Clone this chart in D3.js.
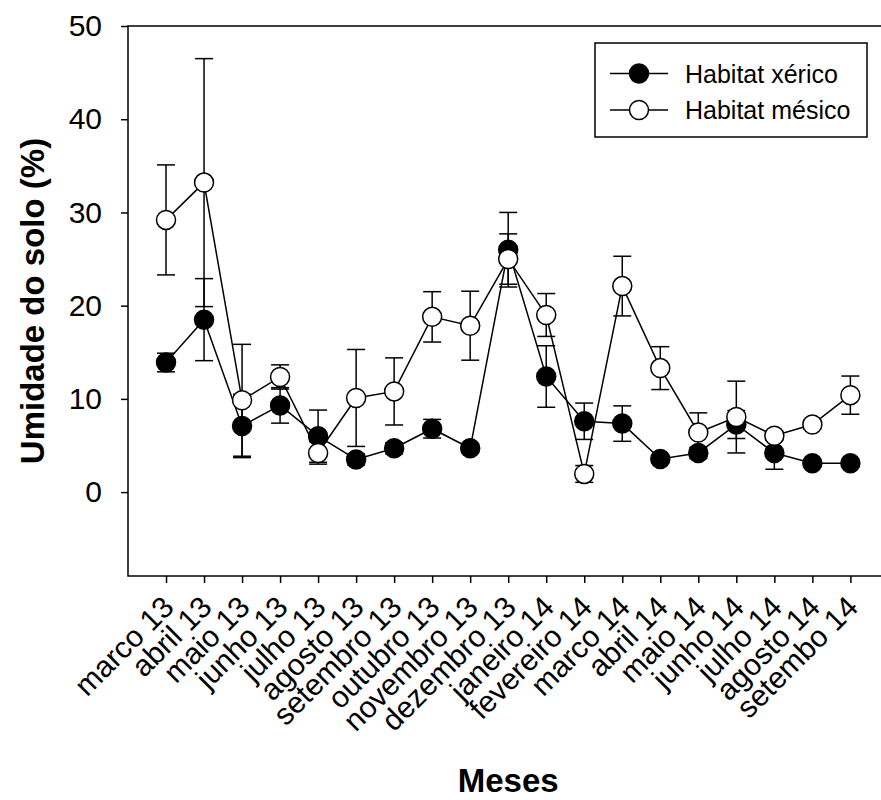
<!DOCTYPE html>
<html>
<head>
<meta charset="utf-8">
<script src="https://cdn.jsdelivr.net/npm/d3@7"></script>
<style>
  body { margin: 0; background: #fff; }
  svg { display: block; font-family: "Liberation Sans", Arial, sans-serif; }
  .axis path, .axis line { stroke: #000; stroke-width: 1.5; }
  .axis text { fill: #000; font-size: 30px; font-family: "Liberation Sans", Arial, sans-serif; }
</style>
</head>
<body>
<div id="chart"></div>
<script>
// months on the x axis
var months = ["marco 13", "abril 13", "maio 13", "junho 13", "julho 13", "agosto 13",
    "setembro 13", "outubro 13", "novembro 13", "dezembro 13", "janeiro 14", "fevereiro 14",
    "marco 14", "abril 14", "maio 14", "junho 14", "julho 14", "agosto 14", "setembo 14"];

// soil moisture (%) and error bars
var xerico = [13.9, 18.5, 7.1, 9.3, 6.0, 3.5, 4.7, 6.8, 4.7, 26.0, 12.4, 7.6, 7.35, 3.55, 4.2, 7.25, 4.2, 3.1, 3.1];
var xericoErr = [1.0, 4.4, 3.4, 1.9, 2.8, 0.6, 0.6, 1.0, 0.5, 4.0, 3.3, 1.95, 1.9, 0.4, 0.6, 1.5, 1.75, 0.3, 0.4];
var mesico = [29.2, 33.2, 9.85, 12.35, 4.2, 10.1, 10.8, 18.8, 17.85, 25.0, 19.0, 1.95, 22.1, 13.3, 6.4, 8.05, 6.05, 7.25, 10.4];
var mesicoErr = [5.9, 13.3, 6.0, 1.3, 1.2, 5.2, 3.6, 2.7, 3.7, 2.7, 2.3, 0.9, 3.2, 2.3, 2.1, 3.85, 0.5, 0.5, 2.05];

var yTicks = [0, 10, 20, 30, 40, 50];
var seriesNames = ["Habitat xérico", "Habitat mésico"];

var W = 881, H = 800;
var pLeft = 128, pTop = 26, pBottom = 576, pRight = 888.4;

var x = d3.scaleLinear().domain([0, months.length + 1]).range([pLeft, pRight]);
var y = d3.scaleLinear().domain([-9, 50]).range([pBottom, pTop]);

var svg = d3.select("#chart").append("svg")
    .attr("width", W).attr("height", H);

// frame (right side falls outside the picture)
svg.append("rect")
    .attr("x", pLeft).attr("y", pTop)
    .attr("width", pRight - pLeft).attr("height", pBottom - pTop)
    .attr("fill", "none").attr("stroke", "#000").attr("stroke-width", 1.5);

var yAxis = d3.axisLeft(y).tickValues(yTicks).tickSize(7).tickPadding(19).tickSizeOuter(0);
var gy = svg.append("g").attr("class", "axis")
    .attr("transform", "translate(" + pLeft + ",0)")
    .call(yAxis);
gy.select(".domain").remove();

var xAxis = d3.axisBottom(x)
    .tickValues(d3.range(1, months.length + 1))
    .tickFormat(function(d){ return months[d - 1]; })
    .tickSize(7).tickSizeOuter(0);
var gx = svg.append("g").attr("class", "axis")
    .attr("transform", "translate(0," + pBottom + ")")
    .call(xAxis);
gx.select(".domain").remove();
gx.selectAll(".tick text")
    .attr("x", 0).attr("y", 0).attr("dy", 0)
    .attr("text-anchor", "end")
    .attr("transform", "translate(9,33) rotate(-45)");

// axis titles
svg.append("text")
    .attr("transform", "translate(44," + ((pTop + pBottom) / 2) + ") rotate(-90)")
    .attr("text-anchor", "middle")
    .attr("font-size", 33).attr("font-weight", "bold")
    .text("Umidade do solo (%)");
svg.append("text")
    .attr("x", (pLeft + pRight) / 2).attr("y", 792)
    .attr("text-anchor", "middle")
    .attr("font-size", 33).attr("font-weight", "bold")
    .text("Meses");

var r = 9.5, cap = 9;
var line = d3.line().x(function(d, i){ return x(i + 1); }).y(function(d){ return y(d); });

function drawSeries(vals, errs, fill, cls){
    var g = svg.append("g").attr("class", cls);
    var eb = g.selectAll("g.err").data(vals).enter().append("g").attr("class", "err")
        .attr("stroke", "#000").attr("stroke-width", 1.5);
    eb.append("line")
        .attr("x1", function(d, i){ return x(i + 1); })
        .attr("x2", function(d, i){ return x(i + 1); })
        .attr("y1", function(d, i){ return y(d + errs[i]); })
        .attr("y2", function(d, i){ return y(d - errs[i]); });
    eb.append("line")
        .attr("x1", function(d, i){ return x(i + 1) - cap; })
        .attr("x2", function(d, i){ return x(i + 1) + cap; })
        .attr("y1", function(d, i){ return y(d + errs[i]); })
        .attr("y2", function(d, i){ return y(d + errs[i]); });
    eb.append("line")
        .attr("x1", function(d, i){ return x(i + 1) - cap; })
        .attr("x2", function(d, i){ return x(i + 1) + cap; })
        .attr("y1", function(d, i){ return y(d - errs[i]); })
        .attr("y2", function(d, i){ return y(d - errs[i]); });
    g.append("path").datum(vals)
        .attr("d", line)
        .attr("fill", "none").attr("stroke", "#000").attr("stroke-width", 1.5);
    g.selectAll("circle.dot").data(vals).enter().append("circle").attr("class", "dot")
        .attr("cx", function(d, i){ return x(i + 1); })
        .attr("cy", function(d){ return y(d); })
        .attr("r", r)
        .attr("fill", fill).attr("stroke", "#000").attr("stroke-width", 1.5);
}

drawSeries(xerico, xericoErr, "#000", "xerico");
drawSeries(mesico, mesicoErr, "#fff", "mesico");

// legend
var lg = svg.append("g").attr("class", "legend");
lg.append("rect")
    .attr("x", 595).attr("y", 43).attr("width", 272).attr("height", 94)
    .attr("fill", "#fff").attr("stroke", "#000").attr("stroke-width", 1.5);
var rows = lg.selectAll("g.row").data(seriesNames).enter().append("g").attr("class", "row")
    .attr("transform", function(d, i){ return "translate(0," + (73.5 + i * 36.5) + ")"; });
rows.append("line")
    .attr("x1", 610).attr("x2", 668).attr("y1", 0).attr("y2", 0)
    .attr("stroke", "#000").attr("stroke-width", 1.5);
rows.append("circle")
    .attr("cx", 639).attr("cy", 0).attr("r", r)
    .attr("fill", function(d, i){ return i === 0 ? "#000" : "#fff"; })
    .attr("stroke", "#000").attr("stroke-width", 1.5);
rows.append("text")
    .attr("x", 685).attr("y", 9)
    .attr("font-size", 25)
    .text(function(d){ return d; });
</script>
</body>
</html>
